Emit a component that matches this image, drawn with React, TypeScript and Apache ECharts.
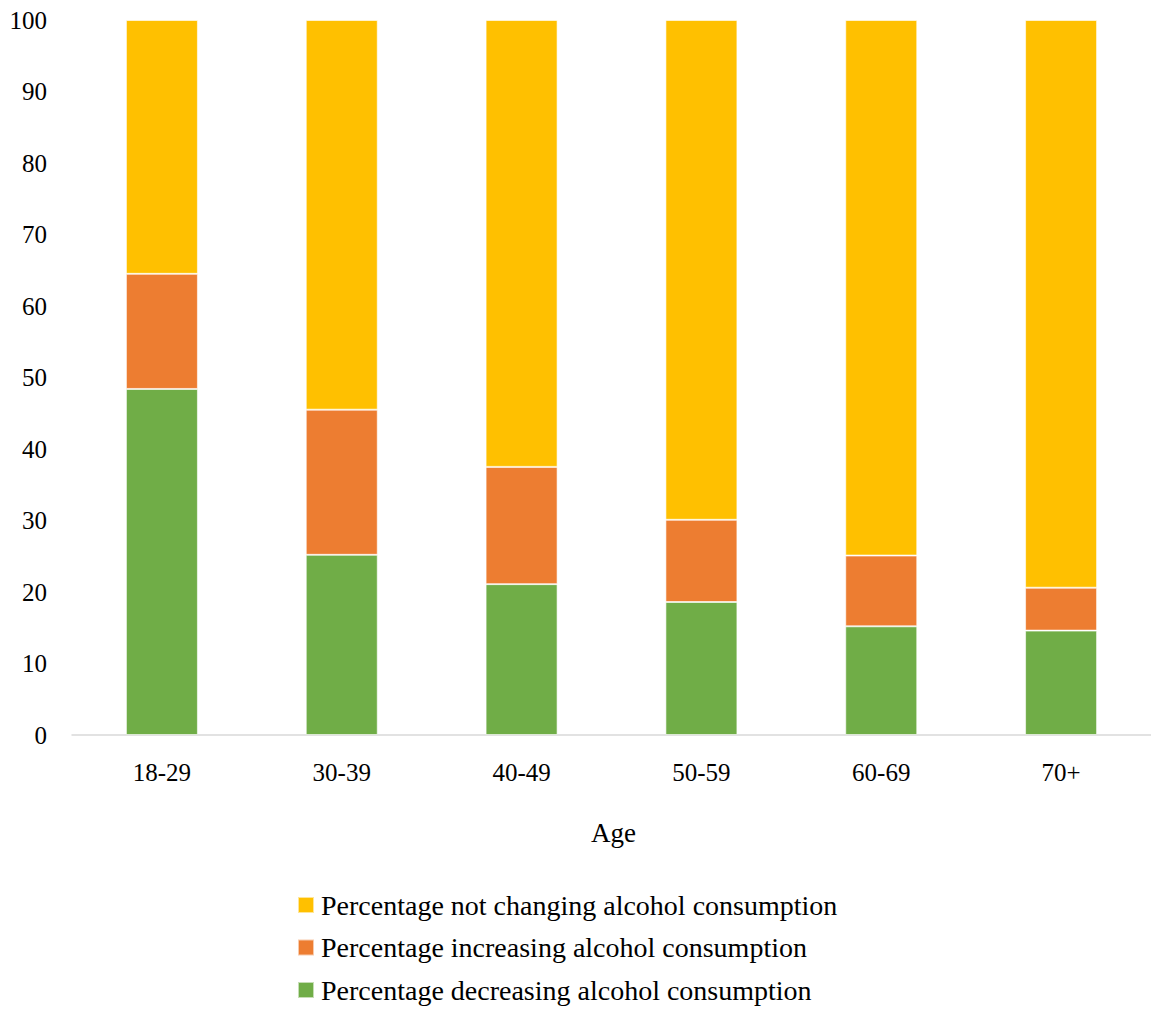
import React, { useEffect, useRef } from "react";
import * as echarts from "echarts";

const categories = ["18-29", "30-39", "40-49", "50-59", "60-69", "70+"];
const decreasing = [48.4, 25.2, 21.1, 18.6, 15.2, 14.6];
const increasing = [16.1, 20.3, 16.4, 11.5, 9.9, 6.0];
const notChanging = [35.5, 54.5, 62.5, 69.9, 74.9, 79.4];
const yTicks = [0, 10, 20, 30, 40, 50, 60, 70, 80, 90, 100];

const FONT = "'Liberation Serif', 'DejaVu Serif', serif";

export default function App() {
  const ref = useRef<HTMLDivElement>(null);
  useEffect(() => {
    if (!ref.current) return;
    const chart = echarts.init(ref.current, null, { renderer: "svg" });
    const barStyle = (color: string) => ({
      color,
      borderColor: "rgba(255,255,255,0.6)",
      borderWidth: 1,
    });
    chart.setOption({
      animation: false,
      textStyle: { fontFamily: FONT },
      grid: { left: 72, top: 20, width: 1082, height: 715, containLabel: false },
      xAxis: {
        type: "category",
        data: categories,
        axisLine: { lineStyle: { color: "#d9d9d9", width: 1.5 } },
        axisTick: { show: false },
        axisLabel: { color: "#000", fontSize: 25, fontFamily: FONT, margin: 25 },
        name: "Age",
        nameLocation: "middle",
        nameGap: 84,
        nameTextStyle: { color: "#000", fontSize: 27, fontFamily: FONT, padding: [0, 0, 0, 4] },
      },
      yAxis: {
        type: "value",
        min: yTicks[0],
        max: yTicks[yTicks.length - 1],
        interval: 10,
        axisLine: { show: false },
        axisTick: { show: false },
        splitLine: { show: false },
        axisLabel: { color: "#000", fontSize: 25, fontFamily: FONT, margin: 25 },
      },
      legend: {
        orient: "vertical",
        left: 297,
        top: 891,
        padding: 0,
        itemWidth: 16,
        itemHeight: 16,
        itemGap: 14.5,
        icon: "rect",
        data: [
          "Percentage not changing alcohol consumption",
          "Percentage increasing alcohol consumption",
          "Percentage decreasing alcohol consumption",
        ],
        textStyle: { color: "#000", fontSize: 28, fontFamily: FONT, padding: [0, 0, 0, 2] },
      },
      series: [
        {
          name: "Percentage decreasing alcohol consumption",
          type: "bar",
          stack: "a",
          barWidth: 72,
          data: decreasing,
          itemStyle: barStyle("#70AD47"),
        },
        {
          name: "Percentage increasing alcohol consumption",
          type: "bar",
          stack: "a",
          barWidth: 72,
          data: increasing,
          itemStyle: barStyle("#ED7D31"),
        },
        {
          name: "Percentage not changing alcohol consumption",
          type: "bar",
          stack: "a",
          barWidth: 72,
          data: notChanging,
          itemStyle: barStyle("#FFC000"),
        },
      ],
    });
    return () => chart.dispose();
  }, []);
  return (
    <div
      ref={ref}
      style={{ position: "absolute", left: 0, top: 0, width: 1151, height: 1012, background: "#fff" }}
    />
  );
}
